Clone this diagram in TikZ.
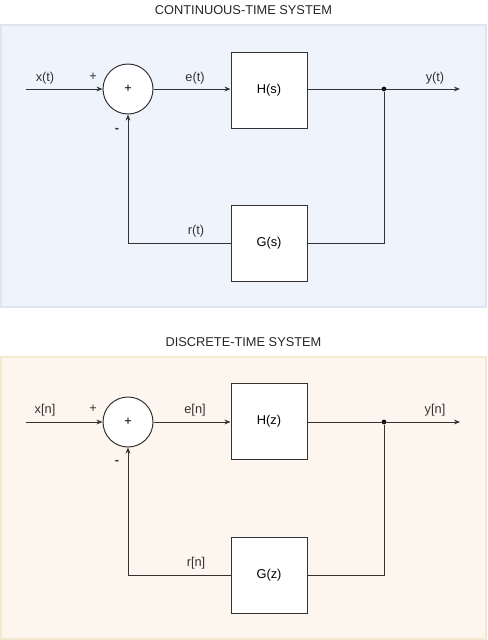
\documentclass[tikz,border=0pt]{standalone}
\usepackage{fontspec}
\setmainfont{Liberation Sans}
\usetikzlibrary{arrows.meta,positioning}
\definecolor{LineGray}{RGB}{51,51,51}
\definecolor{CtFill}  {RGB}{239,243,252}
\definecolor{CtBorder}{RGB}{222,229,240}
\definecolor{DtFill}  {RGB}{253,246,238}
\definecolor{DtBorder}{RGB}{243,232,208}

\begin{document}
\begin{tikzpicture}[
  x=0.75pt, y=-0.75pt,
  font=\fontsize{9.6}{11}\selectfont,
  panel/.style={
    rectangle, line width=0.8pt,
    minimum width=363.75pt,
    minimum height=211.5pt
  },
  block/.style={
    draw=LineGray, fill=white,
    line width=0.75pt, inner sep=0pt,
    minimum width=57pt, minimum height=57pt
  },
  sum/.style={
    circle, draw=LineGray, fill=white,
    line width=0.75pt, inner sep=0pt,
    minimum size=37.5pt
  },
  junction/.style={
    circle, fill=black, inner sep=0pt,
    minimum size=3.5pt
  },
  signal/.style={
    -{Stealth[length=4.5pt, width=3.6pt]},
    line width=0.75pt, LineGray},
  wire/.style={line width=0.75pt, LineGray},
  lbl/.style={text=LineGray, inner sep=0pt},
  title/.style={text=black!85, inner sep=0pt}
]
\useasboundingbox (0,0) rectangle (487,640);

% continuous-time system
\node[title] (cttitle) at (243.5,10) {CONTINUOUS-TIME SYSTEM};
\node[panel, draw=CtBorder, fill=CtFill] (ctpanel) at (243.5,166) {};

\node[sum]   (sum1) at (128,89)  {+};
\node[block] (h1)   at (269,90)  {H(s)};
\node[block] (g1)   at (269,243) {G(s)};
\node[junction] (jn1) at (384,89) {};
\coordinate (xin1)  at (26,89);
\coordinate (yout1) at (460,89);

\draw[signal] (xin1) -- (sum1.west);
\draw[signal] (sum1.east) -- (h1.west |- sum1.east);
\draw[signal] (h1.east |- jn1) -- (yout1);
\draw[wire]   (jn1) |- (g1.east);
\draw[signal] (g1.west) -| (sum1.south);

\node[lbl] (x1lbl) at (45,78)   {x(t)};
\node[lbl] (p1lbl) at (93,77)   {+};
\node[lbl] (m1lbl) at (117,130) {\textbf{-}};
\node[lbl] (e1lbl) at (195,78)  {e(t)};
\node[lbl] (y1lbl) at (435,78)  {y(t)};
\node[lbl] (r1lbl) at (196,231) {r(t)};

% discrete-time system
\node[title] (dttitle) at (243.5,342) {DISCRETE-TIME SYSTEM};
\node[panel, draw=DtBorder, fill=DtFill] (dtpanel) at (243.5,498) {};

\node[sum]   (sum2) at (128,422) {+};
\node[block] (h2)   at (269,421) {H(z)};
\node[block] (g2)   at (269,575.5) {G(z)};
\node[junction] (jn2) at (384,422) {};
\coordinate (xin2)  at (26,422);
\coordinate (yout2) at (460,422);

\draw[signal] (xin2) -- (sum2.west);
\draw[signal] (sum2.east) -- (h2.west |- sum2.east);
\draw[signal] (h2.east |- jn2) -- (yout2);
\draw[wire]   (jn2) |- (g2.east);
\draw[signal] (g2.west) -| (sum2.south);

\node[lbl] (x2lbl) at (45,410)  {x[n]};
\node[lbl] (p2lbl) at (93,409)  {+};
\node[lbl] (m2lbl) at (117,462) {\textbf{-}};
\node[lbl] (e2lbl) at (195,410) {e[n]};
\node[lbl] (y2lbl) at (435,410) {y[n]};
\node[lbl] (r2lbl) at (196,563) {r[n]};

\end{tikzpicture}
\end{document}
